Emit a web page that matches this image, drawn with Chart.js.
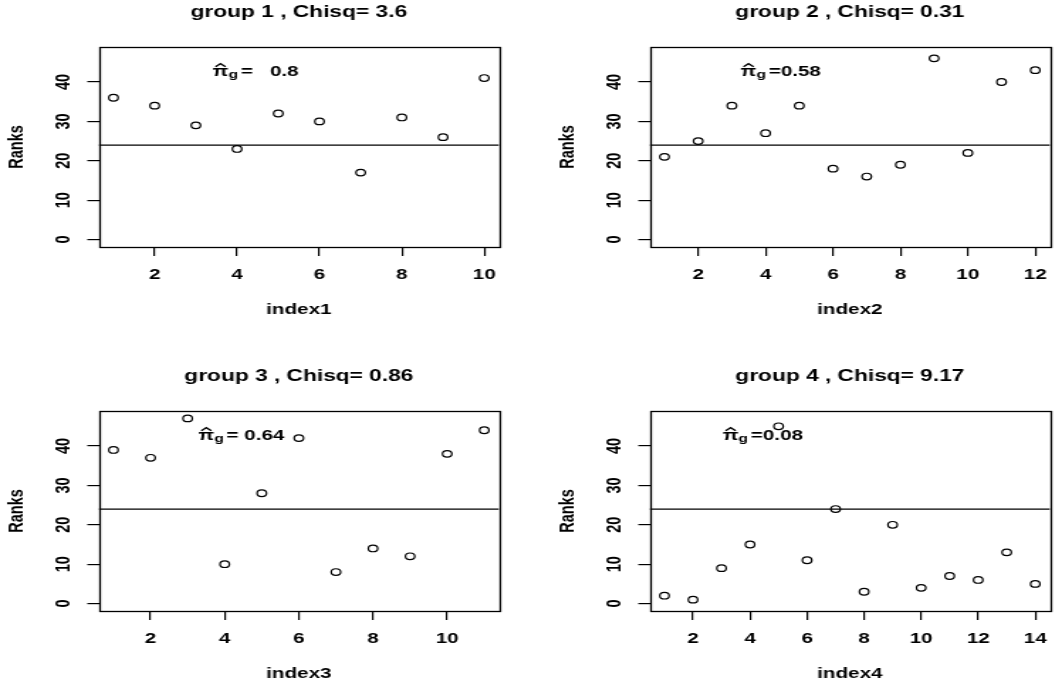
<!DOCTYPE html>
<html>
<head>
<meta charset="utf-8">
<script src="https://cdn.jsdelivr.net/npm/chart.js@4.4.1/dist/chart.umd.min.js"></script>
<style>
  html, body { margin: 0; padding: 0; background: #fff; overflow: hidden; }
  body { width: 1056px; height: 688px; position: relative; }
  /* the reference is stretched sideways, so each panel is drawn narrow and scaled */
  .panel { position: absolute; width: 372px; height: 330px; transform-origin: 0 0; transform: scaleX(1.4194); }
</style>
</head>
<body>
<div class="panel" style="left:0px;top:0px"><canvas id="c1" width="372" height="330"></canvas></div>
<div class="panel" style="left:551px;top:0px"><canvas id="c2" width="372" height="330"></canvas></div>
<div class="panel" style="left:0px;top:364px"><canvas id="c3" width="372" height="330"></canvas></div>
<div class="panel" style="left:551px;top:364px"><canvas id="c4" width="372" height="330"></canvas></div>
<script>
// ranks per group, in index order 1..n
const ranks1 = [36, 34, 29, 23, 32, 30, 17, 31, 26, 41];
const ranks2 = [21, 25, 34, 27, 34, 18, 16, 19, 46, 22, 40, 43];
const ranks3 = [39, 37, 47, 10, 28, 42, 8, 14, 12, 38, 44];
const ranks4 = [2, 1, 9, 15, 45, 11, 24, 3, 20, 4, 7, 6, 13, 5];

const chisq = ['3.6', '0.31', '0.86', '9.17'];
const piHat = ['=   0.8', '=0.58', '= 0.64', '=0.08'];

const xTicks1 = [2, 4, 6, 8, 10];
const xTicks2 = [2, 4, 6, 8, 10, 12];
const xTicks3 = [2, 4, 6, 8, 10];
const xTicks4 = [2, 4, 6, 8, 10, 12, 14];
const yTicks = [0, 10, 20, 30, 40];

const meanRank = 24;       // abline(h = 24)
const yLim = [0, 47];
const piPos = [4.45, 42.8]; // where the pi-hat label sits, in data units

const FONT = '"Liberation Sans", Arial, Helvetica, sans-serif';
const axisFont = { family: FONT, size: 14.5, weight: 'bold' };

// box around the plot region, like R's box()
const frame = {
  id: 'frame',
  afterDraw(chart) {
    const { ctx, chartArea: a } = chart;
    ctx.save();
    ctx.strokeStyle = '#000';
    ctx.lineWidth = 1.3;
    const l = Math.round(a.left) + 0.5, t = Math.round(a.top) + 0.5;
    const r = Math.round(a.right) + 0.5, b = Math.round(a.bottom) + 0.5;
    ctx.strokeRect(l, t, r - l, b - t);
    ctx.restore();
  }
};

// pi-hat sub g label
const piLabel = {
  id: 'piLabel',
  afterDatasetsDraw(chart, args, opts) {
    const { ctx, scales: { x, y } } = chart;
    const cx = x.getPixelForValue(piPos[0]);
    const base = y.getPixelForValue(piPos[1]) + 5.2;
    const big = `bold 14.5px ${FONT}`, small = `bold 11px ${FONT}`;
    ctx.save();
    ctx.fillStyle = '#000';
    ctx.textBaseline = 'alphabetic';
    ctx.textAlign = 'left';
    ctx.font = big;
    const wPi = ctx.measureText('\u03c0').width;
    const wRest = ctx.measureText(opts.text).width;
    ctx.font = small;
    const wG = ctx.measureText('g').width;
    const gap = 2;
    let px = cx - (wPi + wG + gap + wRest) / 2;
    ctx.font = big;
    ctx.fillText('\u03c0', px, base);
    // hat
    ctx.strokeStyle = '#000';
    ctx.lineWidth = 1.3;
    ctx.beginPath();
    ctx.moveTo(px + 2, base - 9.5);
    ctx.lineTo(px + wPi / 2, base - 12.5);
    ctx.lineTo(px + wPi - 2, base - 9.5);
    ctx.stroke();
    px += wPi;
    ctx.font = small;
    ctx.fillText('g', px, base + 2);
    px += wG + gap;
    ctx.font = big;
    ctx.fillText(opts.text, px, base);
    ctx.restore();
  }
};

function makePanel(id, ranks, xTicks, title, xTitle, piText) {
  const n = ranks.length;
  const xPad = (n - 1) * 0.04;
  const yPad = (yLim[1] - yLim[0]) * 0.04;
  const xMin = 1 - xPad, xMax = n + xPad;
  const points = ranks.map((r, i) => ({ x: i + 1, y: r }));

  new Chart(document.getElementById(id), {
    type: 'scatter',
    data: {
      datasets: [{
        data: points,
        pointStyle: 'circle',
        pointRadius: 3.3,
        pointBorderWidth: 1.2,
        borderColor: '#000',
        backgroundColor: 'rgba(0,0,0,0)'
      }, {
        data: [{ x: xMin, y: meanRank }, { x: xMax, y: meanRank }],
        showLine: true,
        pointRadius: 0,
        borderColor: '#000',
        borderWidth: 1.2
      }]
    },
    options: {
      responsive: false,
      animation: false,
      events: [],
      layout: { padding: { left: 0, right: 20.4, top: 0, bottom: 0 } },
      plugins: {
        legend: { display: false },
        tooltip: { enabled: false },
        title: {
          display: true,
          text: title,
          fullSize: false,
          color: '#000',
          font: { family: FONT, size: 16, weight: 'bold' },
          padding: { top: 3.1, bottom: 24.7 }
        },
        piLabel: { text: piText }
      },
      scales: {
        x: {
          type: 'linear',
          min: xMin,
          max: xMax,
          afterBuildTicks: s => { s.ticks = xTicks.map(v => ({ value: v })); },
          afterFit: s => { s.height = 83; },
          grid: { drawOnChartArea: false, color: '#000', tickLength: 9, lineWidth: 1.2 },
          border: { display: false },
          ticks: { color: '#000', font: axisFont, padding: 10, maxRotation: 0, autoSkip: false },
          title: { display: true, text: xTitle, color: '#000', font: axisFont, padding: { top: 0, bottom: 11 } }
        },
        y: {
          type: 'linear',
          min: yLim[0] - yPad,
          max: yLim[1] + yPad,
          afterBuildTicks: s => { s.ticks = yTicks.map(v => ({ value: v })); },
          afterFit: s => { s.width = 69.5; },
          grid: { drawOnChartArea: false, color: '#000', tickLength: 8, lineWidth: 1.2 },
          border: { display: false },
          ticks: { color: '#000', font: axisFont, padding: 8, minRotation: 90, maxRotation: 90, crossAlign: 'center', autoSkip: false },
          title: { display: true, text: 'Ranks', color: '#000', font: axisFont, padding: { top: 3.6, bottom: 0 } }
        }
      }
    },
    plugins: [frame, piLabel]
  });
}

makePanel('c1', ranks1, xTicks1, 'group 1 , Chisq= ' + chisq[0], 'index1', piHat[0]);
makePanel('c2', ranks2, xTicks2, 'group 2 , Chisq= ' + chisq[1], 'index2', piHat[1]);
makePanel('c3', ranks3, xTicks3, 'group 3 , Chisq= ' + chisq[2], 'index3', piHat[2]);
makePanel('c4', ranks4, xTicks4, 'group 4 , Chisq= ' + chisq[3], 'index4', piHat[3]);
</script>
</body>
</html>
